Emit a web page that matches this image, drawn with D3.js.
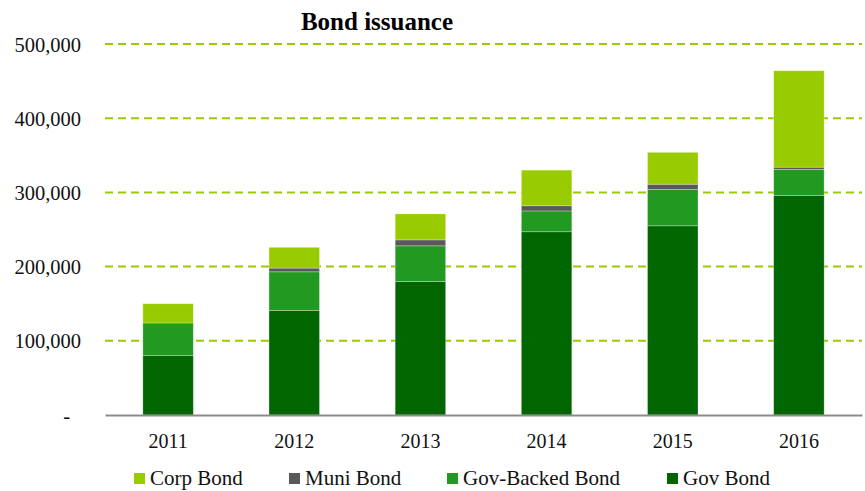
<!DOCTYPE html>
<html>
<head>
<meta charset="utf-8">
<script src="https://cdn.jsdelivr.net/npm/d3@7"></script>
<style>
  body { margin: 0; background: #fff; }
  text { font-family: "Liberation Serif", "Times New Roman", serif; }
</style>
</head>
<body>
<div id="vis"></div>
<script>
// values
var years = ["2011", "2012", "2013", "2014", "2015", "2016"];
var govBond       = [80000, 141000, 180000, 247000, 255000, 296000];
var govBackedBond = [44000, 52000, 48000, 28000, 49000, 35000];
var muniBond      = [0, 5000, 8000, 7000, 7000, 3000];
var corpBond      = [26000, 28000, 35000, 48000, 43000, 130000];
var yTicks = [0, 100000, 200000, 300000, 400000, 500000];

var seriesNames = ["Gov Bond", "Gov-Backed Bond", "Muni Bond", "Corp Bond"];
var legendOrder = ["Corp Bond", "Muni Bond", "Gov-Backed Bond", "Gov Bond"];
var colors = {"Corp Bond": "#99cc00", "Muni Bond": "#595959", "Gov-Backed Bond": "#229a22", "Gov Bond": "#006600"};

var data = years.map((y, i) => ({
  year: y,
  "Gov Bond": govBond[i],
  "Gov-Backed Bond": govBackedBond[i],
  "Muni Bond": muniBond[i],
  "Corp Bond": corpBond[i]
}));

var w = 865, h = 491;
// plot area edges (don't call it "top", that is window.top)
var plotLeft = 105, plotRight = 862, plotTop = 44, plotBottom = 415;

var chart = d3.select("#vis")
              .append("svg")
              .attr("width", w)
              .attr("height", h)

const xScale = d3.scaleBand()
            .domain(years)
            .range([plotLeft, plotRight])
            .paddingInner(0.6)
            .paddingOuter(0.3)

const yScale = d3.scaleLinear()
            .domain([0, 500000])
            .range([plotBottom, plotTop])

// gridlines
chart.append("g")
     .selectAll("line")
     .data(yTicks.filter(d => d > 0))
     .enter()
     .append("line")
     .attr("x1", plotLeft)
     .attr("x2", plotRight)
     .attr("y1", d => yScale(d))
     .attr("y2", d => yScale(d))
     .attr("stroke", "#99cc00")
     .attr("stroke-width", 2)
     .attr("stroke-dasharray", "8,5")

// y labels
chart.append("g")
     .selectAll("text")
     .data(yTicks)
     .enter()
     .append("text")
     .attr("x", d => d === 0 ? 70 : 81)
     .attr("y", d => yScale(d) + 7.5)
     .attr("text-anchor", "end")
     .attr("font-size", 20.5)
     .attr("fill", "#111")
     .text(d => d === 0 ? "-" : d3.format(",")(d))

// stacked bars
var stack = d3.stack().keys(seriesNames)(data);

chart.append("g")
     .selectAll("g")
     .data(stack)
     .enter()
     .append("g")
     .attr("fill", d => colors[d.key])
     .selectAll("rect")
     .data(d => d)
     .enter()
     .append("rect")
     .attr("x", d => xScale(d.data.year))
     .attr("width", xScale.bandwidth())
     .attr("y", d => yScale(d[1]))
     .attr("height", d => yScale(d[0]) - yScale(d[1]))
     .attr("stroke", "#ffffff")
     .attr("stroke-opacity", 0.35)
     .attr("stroke-width", 0.8)

// x axis
const xAxis = chart.append("g")
     .attr("transform", `translate(0,${plotBottom})`)
     .call(d3.axisBottom(xScale).tickSize(0).tickPadding(0))
xAxis.select(".domain").attr("stroke", "#8c8c8c").attr("stroke-width", 2)
xAxis.selectAll("text")
     .attr("dy", null)
     .attr("y", 33)
     .attr("font-size", 20)
     .attr("font-family", "Liberation Serif, serif")
     .attr("fill", "#111")

// title
chart.append("text")
     .attr("x", 377)
     .attr("y", 30)
     .attr("text-anchor", "middle")
     .attr("font-size", 25)
     .attr("font-weight", "bold")
     .attr("fill", "#000")
     .text("Bond issuance")

// legend
var legendX = [134, 289, 447, 667];
var lg = chart.append("g")
     .selectAll("g")
     .data(legendOrder)
     .enter()
     .append("g")
     .attr("transform", (d, i) => `translate(${legendX[i]},473)`)
lg.append("rect")
  .attr("width", 11)
  .attr("height", 11)
  .attr("fill", d => colors[d])
lg.append("text")
  .attr("x", 16)
  .attr("y", 12)
  .attr("font-size", 21)
  .attr("fill", "#111")
  .text(d => d)
</script>
</body>
</html>
